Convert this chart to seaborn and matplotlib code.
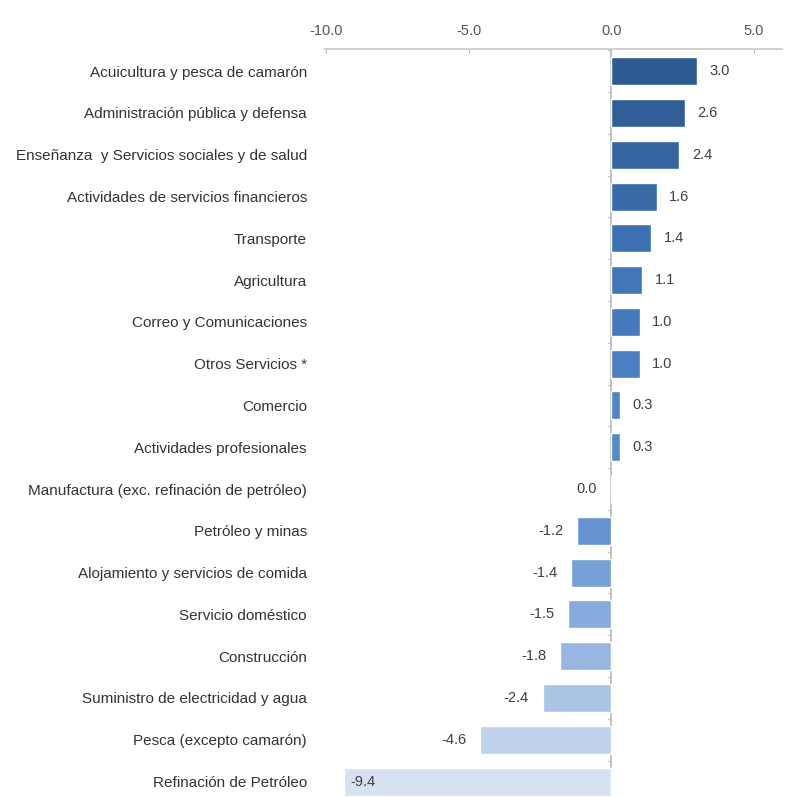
import matplotlib
matplotlib.use("Agg")
import matplotlib.pyplot as plt
import seaborn as sns
import pandas as pd

categories = [
    "Acuicultura y pesca de camarón",
    "Administración pública y defensa",
    "Enseñanza  y Servicios sociales y de salud",
    "Actividades de servicios financieros",
    "Transporte",
    "Agricultura",
    "Correo y Comunicaciones",
    "Otros Servicios *",
    "Comercio",
    "Actividades profesionales",
    "Manufactura (exc. refinación de petróleo)",
    "Petróleo y minas",
    "Alojamiento y servicios de comida",
    "Servicio doméstico",
    "Construcción",
    "Suministro de electricidad y agua",
    "Pesca (excepto camarón)",
    "Refinación de Petróleo",
]
values = [3.0, 2.6, 2.4, 1.6, 1.4, 1.1, 1.0, 1.0, 0.3, 0.3,
          0.0, -1.2, -1.4, -1.5, -1.8, -2.4, -4.6, -9.4]
x_ticks = [-10.0, -5.0, 0.0, 5.0]

bar_colors = ["#2e5c92", "#305f97", "#3465a0", "#386ba8", "#3c70b0", "#4176b7",
              "#457bbd", "#4a80c2", "#4f85c6", "#5589ca", "#5b8ecd", "#6593d2",
              "#76a0d8", "#86abdc", "#98b7e0", "#aac4e6", "#bfd2ec", "#d6e2f2"]

df = pd.DataFrame({"sector": categories, "valor": values})

sns.set_style("white")
plt.rcParams["font.family"] = ["Liberation Sans", "DejaVu Sans"]

fig = plt.figure(figsize=(8.03, 7.97), dpi=100)
ax = fig.add_axes([325 / 803, 0.0, (782 - 325) / 803, 748 / 797])

sns.barplot(data=df, y="sector", x="valor", hue="sector", palette=bar_colors,
            orient="h", width=0.67, legend=False, ax=ax, saturation=1)

ax.set_xlim(-10.05, 6.0)
ax.set_ylim(17.37, -0.53)
ax.set_xlabel("")
ax.set_ylabel("")

# value axis on top
ax.xaxis.tick_top()
ax.set_xticks(x_ticks)
ax.set_xticklabels([f"{t:.1f}" for t in x_ticks], fontsize=10.5, color="#555555")
ax.tick_params(axis="x", direction="in", length=3, color="#bbbbbb", pad=8)
ax.tick_params(axis="y", length=0, pad=13, labelsize=11, labelcolor="#333333")

for side in ["left", "right", "bottom"]:
    ax.spines[side].set_visible(False)
ax.spines["top"].set_color("#c8c8c8")
ax.spines["top"].set_linewidth(1.2)

# category axis at zero
ax.axvline(0, color="#b8b8b8", lw=1.2, zorder=0)
for i in range(len(categories) + 1):
    ax.plot([-0.12, 0], [i - 0.5, i - 0.5], color="#c0c0c0", lw=0.8, zorder=0)

# value labels
for i, v in enumerate(values):
    label = f"{v:.1f}"
    if v > 0:
        ax.annotate(label, (v, i), xytext=(9, 0), textcoords="offset points",
                    ha="left", va="center", fontsize=10.5, color="#404040")
    elif v < -8:
        ax.annotate(label, (v, i), xytext=(5, 0), textcoords="offset points",
                    ha="left", va="center", fontsize=10.5, color="#404040")
    else:
        ax.annotate(label, (v, i), xytext=(-10, 0), textcoords="offset points",
                    ha="right", va="center", fontsize=10.5, color="#404040")

fig.savefig("out.png", dpi=100, facecolor="white")
